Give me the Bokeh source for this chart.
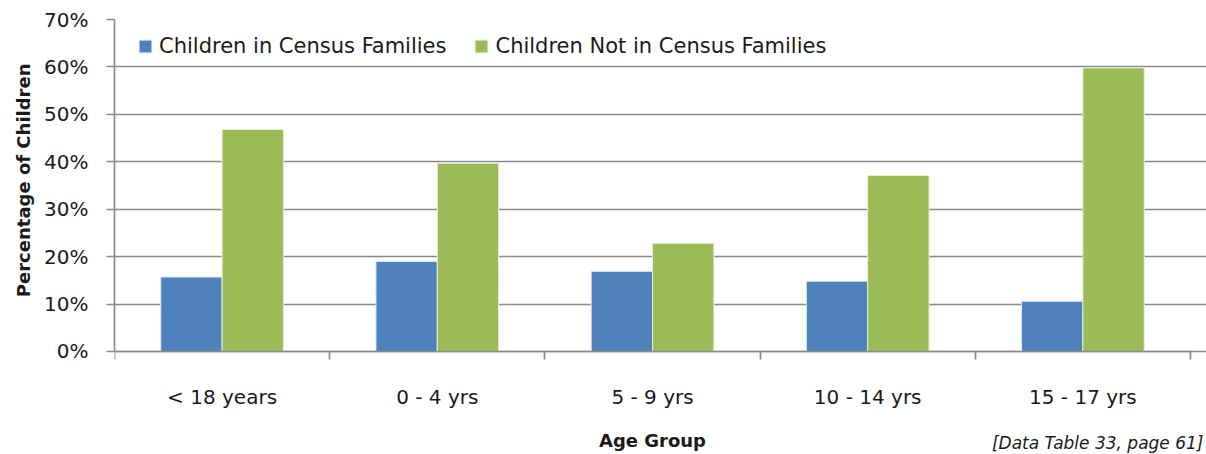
from bokeh.plotting import figure
from bokeh.models import FixedTicker, PrintfTickFormatter, Legend, LegendItem, Label, Title, ColumnDataSource
from bokeh.embed import file_html
from bokeh.resources import INLINE
import numpy as np

categories = ["< 18 years", "0 - 4 yrs", "5 - 9 yrs", "10 - 14 yrs", "15 - 17 yrs"]
in_census = [15.7, 19.0, 16.9, 14.8, 10.6]
not_in_census = [46.8, 39.7, 22.8, 37.1, 59.8]
series_names = ["Children in Census Families", "Children Not in Census Families"]
y_ticks = [0, 10, 20, 30, 40, 50, 60, 70]
x_title = "Age Group"
y_title = "Percentage of Children"
source_note = "[Data Table 33, page 61]"

FONT = "DejaVu Sans"
TXT = "#1a1a1a"
GRID = "#8a8a8a"
N = len(categories)
centers = np.arange(N) + 0.5
W = 0.285

# frame runs to the right edge of the page so the source note fits; grid and axis stop at N
p = figure(width=1206, height=454, x_range=(0, N + 16 / 215.2), y_range=(-21.72, 70),
           output_backend="svg", toolbar_location=None,
           min_border_left=114, min_border_right=0, min_border_top=19, min_border_bottom=0)
p.outline_line_color = None
p.background_fill_color = "white"

src1 = ColumnDataSource(dict(x=centers - W / 2, top=in_census))
src2 = ColumnDataSource(dict(x=centers + W / 2, top=not_in_census))
r1 = p.vbar(x="x", top="top", width=W, source=src1, fill_color="#4f81bd", line_color="#dfe8f3", line_width=1)
r2 = p.vbar(x="x", top="top", width=W, source=src2, fill_color="#9bbb59", line_color="#e6efd6", line_width=1)

# grid
p.xgrid.grid_line_color = None
p.ygrid.ticker = FixedTicker(ticks=y_ticks)
p.ygrid.bounds = (0, N)
p.ygrid.grid_line_color = GRID
p.ygrid.grid_line_width = 1.7
p.ygrid.level = "underlay"

# y axis
ya = p.yaxis[0]
ya.bounds = (0, 70)
ya.ticker = FixedTicker(ticks=y_ticks)
ya.formatter = PrintfTickFormatter(format="%d%%")
ya.axis_line_color = GRID
ya.axis_line_width = 1.7
ya.major_tick_line_color = GRID
ya.major_tick_line_width = 1.7
ya.major_tick_out = 8
ya.major_tick_in = 0
ya.minor_tick_line_color = None
ya.major_label_text_font = FONT
ya.major_label_text_font_size = "20px"
ya.major_label_text_color = TXT
ya.major_label_standoff = 18

# y title on the left panel, placed along the 0..70 span
p.add_layout(Title(text=y_title, align="right", offset=44, vertical_align="middle",
                   text_font=FONT, text_font_style="bold", text_font_size="18px",
                   text_color=TXT, standoff=14), "left")

# x axis, drawn at y = 0 inside the frame
xa = p.xaxis[0]
xa.fixed_location = 0
xa.bounds = (0, N)
xa.ticker = FixedTicker(ticks=list(centers), minor_ticks=list(range(N + 1)))
xa.major_label_overrides = {float(c): lab for c, lab in zip(centers, categories)}
xa.axis_line_color = GRID
xa.axis_line_width = 1.7
xa.major_tick_line_color = None
xa.major_tick_out = 0
xa.major_tick_in = 0
xa.minor_tick_line_color = GRID
xa.minor_tick_line_width = 1.7
xa.minor_tick_out = 8
xa.minor_tick_in = 0
xa.major_label_text_font = FONT
xa.major_label_text_font_size = "20px"
xa.major_label_text_color = TXT
xa.major_label_standoff = 26

p.add_layout(Label(x=N / 2, y=-18.76, text=x_title, text_font=FONT,
                   text_font_style="bold", text_font_size="18px", text_align="center",
                   text_baseline="middle", text_color=TXT))
p.add_layout(Label(x=N, y=-19.2, x_offset=13, text=source_note,
                   text_font=FONT, text_font_style="italic", text_font_size="17px",
                   text_align="right", text_baseline="middle", text_color=TXT))

legend = Legend(items=[LegendItem(label=series_names[0], renderers=[r1]),
                       LegendItem(label=series_names[1], renderers=[r2])],
                orientation="horizontal", location=(23, 396),
                background_fill_alpha=0, border_line_color=None,
                label_text_font=FONT, label_text_font_size="21px", label_text_color=TXT,
                glyph_width=16, glyph_height=16, label_standoff=6, spacing=27,
                padding=0, margin=0)
p.add_layout(legend, "center")

open("out.html", "w").write(file_html(p, INLINE))
